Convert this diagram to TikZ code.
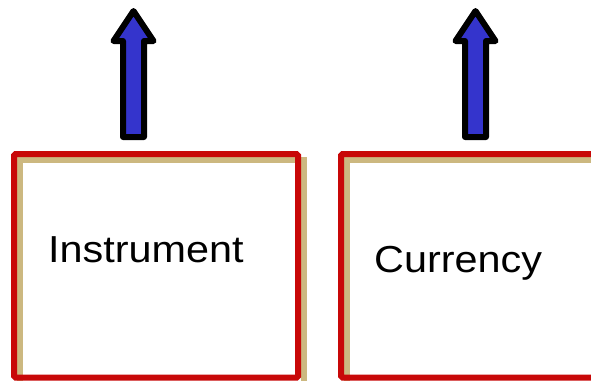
\documentclass[tikz,border=0pt]{standalone}
\usepackage{fontspec}
\setmainfont{Liberation Sans}
\definecolor{boxred}{RGB}{200,8,8}
\definecolor{boxtan}{RGB}{204,184,128}
\definecolor{arrowblue}{RGB}{52,52,204}
\begin{document}
\begin{tikzpicture}[x=1pt,y=-1pt,
  frame/.style={draw=boxred,line width=6pt,rounded corners=1.5pt},
  shadowframe/.style={draw=boxtan,line width=6pt},
  blockarrow/.style={draw=black,fill=arrowblue,line width=6pt,line join=round},
  label/.style={font=\fontsize{37.6}{40}\selectfont,anchor=base west,inner sep=0pt,xscale=1.1}]
\useasboundingbox (0,0) rectangle (591,380);
\begin{scope}
\clip (0,0) rectangle (591,380);
% shadow outlines, offset down and right
\draw[shadowframe] (20,160) rectangle (304,384);
\draw[shadowframe] (347,160) rectangle (640,384);
% red box outlines
\draw[frame] (14,154) rectangle (298,377.5);
\draw[frame] (341,154) rectangle (634,377.5);
\end{scope}
% upward block arrows
\draw[blockarrow] (133.5,11) -- (153.5,41) -- (144,41) -- (144,137) -- (123,137) -- (123,41) -- (113.5,41) -- cycle;
\draw[blockarrow] (475.5,11) -- (495.5,41) -- (486,41) -- (486,137) -- (465,137) -- (465,41) -- (455.5,41) -- cycle;
% labels
\node[label] (instrument) at (48,262) {Instrument};
\node[label] (currency) at (374,272) {Currency};
\end{tikzpicture}
\end{document}
